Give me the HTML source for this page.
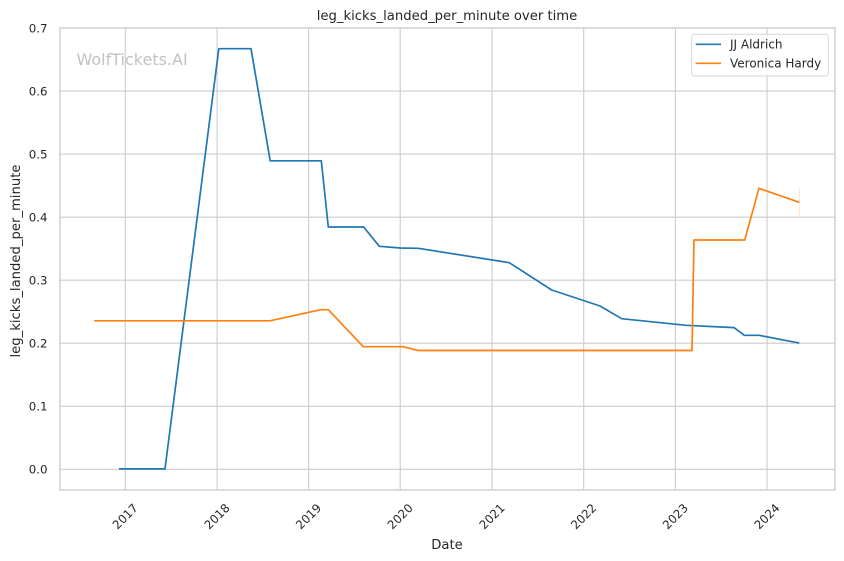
<!DOCTYPE html>
<html>
<head>
<meta charset="utf-8">
<style>
  html, body { margin: 0; padding: 0; background: #ffffff; }
  body { width: 844px; height: 561px; overflow: hidden; }
  svg { display: block; font-family: "DejaVu Sans", "Liberation Sans", sans-serif; }
</style>
</head>
<body>
<svg width="844" height="561" viewBox="0 0 844 561" xmlns="http://www.w3.org/2000/svg">
  <rect x="0" y="0" width="844" height="561" fill="#ffffff"/>

  <!-- horizontal grid -->
  <g stroke="#cccccc" stroke-width="1.1">
    <line x1="60" y1="28" x2="835" y2="28"/>
    <line x1="60" y1="91.1" x2="835" y2="91.1"/>
    <line x1="60" y1="154.1" x2="835" y2="154.1"/>
    <line x1="60" y1="217.2" x2="835" y2="217.2"/>
    <line x1="60" y1="280.2" x2="835" y2="280.2"/>
    <line x1="60" y1="343.2" x2="835" y2="343.2"/>
    <line x1="60" y1="406.3" x2="835" y2="406.3"/>
    <line x1="60" y1="469.3" x2="835" y2="469.3"/>
  </g>
  <!-- vertical grid -->
  <g stroke="#cccccc" stroke-width="1.1">
    <line x1="125.3" y1="28" x2="125.3" y2="490"/>
    <line x1="217.1" y1="28" x2="217.1" y2="490"/>
    <line x1="308.6" y1="28" x2="308.6" y2="490"/>
    <line x1="400.2" y1="28" x2="400.2" y2="490"/>
    <line x1="492.1" y1="28" x2="492.1" y2="490"/>
    <line x1="583.7" y1="28" x2="583.7" y2="490"/>
    <line x1="675.4" y1="28" x2="675.4" y2="490"/>
    <line x1="767.0" y1="28" x2="767.0" y2="490"/>
  </g>
  <!-- spines -->
  <rect x="60" y="28" width="775" height="462" fill="none" stroke="#cccccc" stroke-width="1.4"/>

  <!-- watermark -->
  <text x="76.5" y="65" font-size="16" fill="#c2c2c2">WolfTickets.AI</text>

  <!-- faint CI tick -->
  <line x1="799.3" y1="188" x2="799.3" y2="216" stroke="#ff7f0e" stroke-opacity="0.2" stroke-width="1.2"/>

  <!-- JJ Aldrich -->
  <polyline fill="none" stroke="#1f77b4" stroke-width="1.7" stroke-linejoin="round" points="
    119,468.9 165,468.9 218.8,48.7 251,48.7 270.2,160.8 321.3,160.8 328.3,227 363.7,227
    379.3,246.3 400,248 418.3,248.3 509.3,262.7 551.7,290 600,306 621.7,318.7 686,325.3
    734,327.6 744.3,335.3 759,335.3 799.3,343.1"/>

  <!-- Veronica Hardy -->
  <polyline fill="none" stroke="#ff7f0e" stroke-width="1.7" stroke-linejoin="round" points="
    94.3,320.8 270,320.8 320.7,309.7 328.3,309.7 363.3,346.7 403.3,346.7 418.3,350.5
    692,350.5 694,240 744.7,240 759,188.3 799.3,202.3"/>

  <!-- y tick labels -->
  <g font-size="11.8" fill="#262626" text-anchor="end">
    <text x="47.5" y="32.3">0.7</text>
    <text x="47.5" y="95.4">0.6</text>
    <text x="47.5" y="158.4">0.5</text>
    <text x="47.5" y="221.5">0.4</text>
    <text x="47.5" y="284.5">0.3</text>
    <text x="47.5" y="347.5">0.2</text>
    <text x="47.5" y="410.6">0.1</text>
    <text x="47.5" y="473.6">0.0</text>
  </g>

  <!-- x tick labels -->
  <g font-size="11.8" fill="#262626" text-anchor="middle">
    <text x="125.3" y="520.5" transform="rotate(-45 125.3 516.5)">2017</text>
    <text x="217.1" y="520.5" transform="rotate(-45 217.1 516.5)">2018</text>
    <text x="308.6" y="520.5" transform="rotate(-45 308.6 516.5)">2019</text>
    <text x="400.2" y="520.5" transform="rotate(-45 400.2 516.5)">2020</text>
    <text x="492.1" y="520.5" transform="rotate(-45 492.1 516.5)">2021</text>
    <text x="583.7" y="520.5" transform="rotate(-45 583.7 516.5)">2022</text>
    <text x="675.4" y="520.5" transform="rotate(-45 675.4 516.5)">2023</text>
    <text x="767.0" y="520.5" transform="rotate(-45 767.0 516.5)">2024</text>
  </g>

  <!-- axis labels and title -->
  <text x="447" y="549" font-size="13.2" fill="#262626" text-anchor="middle">Date</text>
  <text x="20" y="261" font-size="13.2" fill="#262626" text-anchor="middle" transform="rotate(-90 20 261)">leg_kicks_landed_per_minute</text>
  <text x="447" y="20" font-size="13.2" fill="#262626" text-anchor="middle">leg_kicks_landed_per_minute over time</text>

  <!-- legend -->
  <rect x="691.7" y="34.3" width="136.6" height="41.7" rx="3" ry="3" fill="#ffffff" fill-opacity="0.8" stroke="#d6d6d6" stroke-width="1"/>
  <line x1="695.7" y1="44.3" x2="721" y2="44.3" stroke="#1f77b4" stroke-width="1.7"/>
  <line x1="695.7" y1="63.3" x2="721" y2="63.3" stroke="#ff7f0e" stroke-width="1.7"/>
  <g font-size="12" fill="#262626">
    <text x="730" y="48.6">JJ Aldrich</text>
    <text x="730" y="67.6">Veronica Hardy</text>
  </g>
</svg>
</body>
</html>
